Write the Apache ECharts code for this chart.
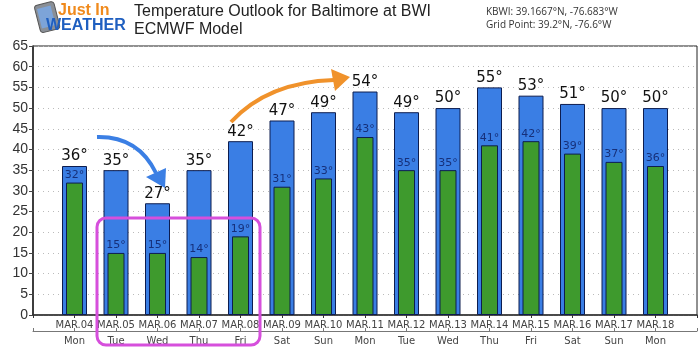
<!DOCTYPE html>
<html>
<head>
<meta charset="utf-8">
<script src="https://cdn.jsdelivr.net/npm/echarts@6/dist/echarts.min.js"></script>
<style>
  html, body { margin: 0; padding: 0; background: #fff; }
  #chart { width: 700px; height: 351px; }
</style>
</head>
<body>
<div id="chart"></div>
<script>
const dates = ["MAR.04", "MAR.05", "MAR.06", "MAR.07", "MAR.08", "MAR.09", "MAR.10", "MAR.11",
  "MAR.12", "MAR.13", "MAR.14", "MAR.15", "MAR.16", "MAR.17", "MAR.18"];
const days = ["Mon", "Tue", "Wed", "Thu", "Fri", "Sat", "Sun", "Mon", "Tue", "Wed", "Thu", "Fri", "Sat", "Sun", "Mon"];
const highs = [36, 35, 27, 35, 42, 47, 49, 54, 49, 50, 55, 53, 51, 50, 50];
const lows = [32, 15, 15, 14, 19, 31, 33, 43, 35, 35, 41, 42, 39, 37, 36];

// empty slot at each end so the bars sit one slot in from the frame
const pad = arr => ["", ...arr, ""];
const padData = arr => ["-", ...arr, "-"];

const chart = echarts.init(document.getElementById("chart"));

const font = "DejaVu Sans";

const option = {
  animation: false,
  backgroundColor: "#fff",
  grid: {
    left: 33, right: 3, top: 46, bottom: 36,
    show: true, borderColor: "#222", borderWidth: 1, backgroundColor: "#fff"
  },
  xAxis: [
    {
      type: "category",
      data: pad(dates),
      boundaryGap: false,
      axisLine: { lineStyle: { color: "#333", width: 1.5 } },
      axisTick: { show: true, length: 3, lineStyle: { color: "#333" } },
      axisLabel: { interval: 0, fontFamily: font, fontSize: 10, color: "#444", margin: 5 }
    },
    {
      // day names; the low bars also hang off this axis so they stay centred
      type: "category",
      position: "bottom",
      offset: 16,
      data: pad(days),
      boundaryGap: false,
      axisLine: { show: true, lineStyle: { color: "#777", width: 1 } },
      axisTick: { show: true, inside: true, length: 3, lineStyle: { color: "#777" } },
      axisLabel: { interval: 0, fontFamily: font, fontSize: 10, color: "#444", margin: 5 }
    }
  ],
  yAxis: {
    type: "value",
    min: 0, max: 65, interval: 5,
    axisLine: { show: true, lineStyle: { color: "#222", width: 1.5 } },
    axisTick: { show: true, length: 4, lineStyle: { color: "#444" } },
    axisLabel: { fontFamily: "Liberation Sans", fontSize: 14, color: "#333", margin: 5 },
    splitLine: { lineStyle: { color: "#bbb", type: [1, 4], width: 1 } }
  },
  series: [
    {
      type: "bar",
      xAxisIndex: 0,
      data: padData(highs),
      barWidth: 25,
      itemStyle: { color: "#3a7ee4", borderColor: "#0d1d4f", borderWidth: 1 },
      label: {
        show: true, position: "top", distance: 2, formatter: "{c}°",
        fontFamily: font, fontSize: 15, color: "#111"
      }
    },
    {
      type: "bar",
      xAxisIndex: 1,
      data: padData(lows),
      barWidth: 17,
      itemStyle: { color: "#3e9a2d", borderColor: "#0d1d4f", borderWidth: 1 },
      label: {
        show: true, position: "top", distance: 2, formatter: "{c}°",
        fontFamily: font, fontSize: 11, color: "#16307a"
      }
    }
  ],
  graphic: [
    // logo
    { type: "rect", rotation: 0.25, x: 34, y: 6,
      shape: { x: 0, y: 0, width: 20, height: 28, r: 3 },
      style: { fill: "#8a8f96", stroke: "#555", lineWidth: 1 } },
    { type: "rect", rotation: 0.25, x: 37, y: 9,
      shape: { x: 0, y: 0, width: 14, height: 20 },
      style: { fill: "#7da4d8" } },
    { type: "text", x: 58, y: 3,
      style: { text: "Just In", font: "bold 16px 'Liberation Sans'", fill: "#f08a1c" } },
    { type: "text", x: 46, y: 18,
      style: { text: "WEATHER", font: "bold 16px 'Liberation Sans'", fill: "#1f5fc0" } },
    // titles
    { type: "text", x: 134, y: 4,
      style: { text: "Temperature Outlook for Baltimore at BWI", font: "16px 'Liberation Sans'", fill: "#222" } },
    { type: "text", x: 134, y: 22,
      style: { text: "ECMWF Model", font: "16px 'Liberation Sans'", fill: "#222" } },
    { type: "text", x: 486, y: 7,
      style: { text: "KBWI: 39.1667°N, -76.683°W", font: "10px 'Open Sans'", fill: "#333" } },
    { type: "text", x: 486, y: 20,
      style: { text: "Grid Point: 39.2°N, -76.6°W", font: "10px 'Open Sans'", fill: "#333" } },
    // blue arrow
    { type: "bezierCurve", z: 20,
      shape: { x1: 97, y1: 137, cpx1: 138, cpy1: 136, x2: 156, y2: 173 },
      style: { stroke: "#3b7fe4", lineWidth: 4, fill: null } },
    { type: "polygon", z: 20,
      shape: { points: [[165, 188], [146, 177], [166, 168]] },
      style: { fill: "#3b7fe4" } },
    // orange arrow
    { type: "bezierCurve", z: 20,
      shape: { x1: 231, y1: 122, cpx1: 268, cpy1: 82, x2: 334, y2: 80 },
      style: { stroke: "#f0922b", lineWidth: 4, fill: null } },
    { type: "polygon", z: 20,
      shape: { points: [[350, 77], [331, 69], [335, 91]] },
      style: { fill: "#f0922b" } },
    // highlight box
    { type: "rect", z: 20,
      shape: { x: 97, y: 218, width: 163, height: 127, r: 9 },
      style: { fill: null, stroke: "#d64fdc", lineWidth: 3 } }
  ]
};

chart.setOption(option);
</script>
</body>
</html>
